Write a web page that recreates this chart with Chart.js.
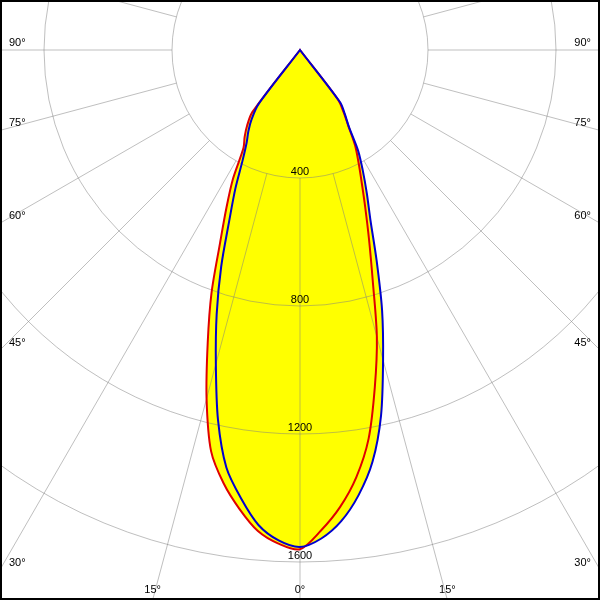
<!DOCTYPE html>
<html>
<head>
<meta charset="utf-8">
<title>Luminous intensity distribution</title>
<script src="https://cdn.jsdelivr.net/npm/chart.js@4/dist/chart.umd.min.js"></script>
<style>
  html, body { margin: 0; padding: 0; background: #fff; overflow: hidden; }
  #wrap { position: relative; width: 600px; height: 600px; }
  #frame { position: absolute; inset: 0; border: 2px solid #000; box-sizing: border-box; pointer-events: none; }
</style>
</head>
<body>
<div id="wrap">
  <canvas id="polar" width="600" height="600"></canvas>
  <div id="frame"></div>
</div>
<script>
// ── Data (cd per 1000 lm), gamma measured from nadir ────────────
const STEP = 2.5;
const gamma = [0, 2.5, 5, 7.5, 10, 12.5, 15, 17.5, 20, 22.5, 25, 27.5, 30, 32.5, 35, 37.5, 40];

// C0 / C180 plane (red)
const redRight = [1560, 1503, 1434, 1347, 1234, 1080, 928, 756, 631, 533, 456, 396, 344, 281, 238, 194, 0];
const redLeft  = [1560, 1544, 1509, 1447, 1375, 1284, 1128, 959, 809, 653, 544, 453, 353, 322, 288, 244, 0];

// C90 / C270 plane (blue)
const blueRight = [1553, 1528, 1478, 1403, 1306, 1170, 1003, 853, 700, 575, 494, 425, 363, 284, 244, 206, 0];
const blueLeft  = [1553, 1534, 1490, 1413, 1325, 1184, 1016, 866, 720, 578, 478, 388, 333, 300, 263, 213, 0];

const intensityTicks = [400, 800, 1200, 1600];
const angleTicks = [0, 15, 30, 45, 60, 75, 90];

// ── Look ────────────────────────────────────────────────────────
const GRID = 'rgba(128,128,128,0.5)';
const FONT = '11px "Liberation Sans", Arial, sans-serif';
const N = 360 / STEP;

// radar index 0 is nadir, indices run clockwise on screen (to the left first)
function planeSeries(right, left) {
  const out = [];
  for (let i = 0; i < N; i++) {
    if (i <= N / 2) out.push(i < left.length ? left[i] : 0);
    else out.push(N - i < right.length ? right[N - i] : 0);   // no light beyond the listed angles
  }
  return out;
}

const directions = [];
for (let i = 0; i < N; i++) directions.push(i * STEP);

// spokes from the first ring outward, ring values, angle labels at the frame
const polarDecor = {
  id: 'polarDecor',
  beforeDatasetsDraw(chart) {
    const s = chart.scales.r;
    const ctx = chart.ctx;
    const W = chart.width, H = chart.height;
    ctx.save();

    const inner = s.getDistanceFromCenterForValue(intensityTicks[0]);
    ctx.strokeStyle = GRID;
    ctx.lineWidth = 1;
    for (let deg = 0; deg < 360; deg += 15) {
      const a = s.getPointPosition(deg / STEP, inner);
      const b = s.getPointPosition(deg / STEP, 2000);
      ctx.beginPath();
      ctx.moveTo(a.x, a.y);
      ctx.lineTo(b.x, b.y);
      ctx.stroke();
    }

    ctx.fillStyle = '#000';
    ctx.font = FONT;
    ctx.textBaseline = 'alphabetic';
    ctx.textAlign = 'center';
    intensityTicks.forEach(v => {
      ctx.fillText(String(v), s.xCenter, s.yCenter + s.getDistanceFromCenterForValue(v) - 3);
    });

    angleTicks.forEach(deg => {
      const sides = deg === 0 ? [1] : [-1, 1];
      sides.forEach(side => {
        const dx = side * Math.sin(deg * Math.PI / 180);
        const dy = Math.cos(deg * Math.PI / 180);
        const tx = dx === 0 ? Infinity : (dx < 0 ? -s.xCenter / dx : (W - s.xCenter) / dx);
        const ty = dy <= 1e-9 ? Infinity : (H - s.yCenter) / dy;
        const label = deg + '°';
        if (tx < ty) {
          const y = s.yCenter + tx * dy;
          ctx.textAlign = side < 0 ? 'left' : 'right';
          ctx.fillText(label, side < 0 ? 9 : W - 9, y - 4);
        } else {
          ctx.textAlign = 'center';
          ctx.fillText(label, s.xCenter + ty * dx, H - 7);
        }
      });
    });
    ctx.restore();
  }
};

new Chart(document.getElementById('polar'), {
  type: 'radar',
  data: {
    labels: directions,
    datasets: [
      {
        label: 'C90 - C270',
        data: planeSeries(blueRight, blueLeft),
        borderColor: '#0000d0',
        backgroundColor: '#ffff00',
        fill: 'origin',
      },
      {
        label: 'C0 - C180',
        data: planeSeries(redRight, redLeft),
        borderColor: '#e00000',
        backgroundColor: '#ffff00',
        fill: 'origin',
      },
    ],
  },
  options: {
    responsive: false,
    animation: false,
    layout: { padding: 0 },
    elements: {
      line: { borderWidth: 2, tension: 0.3 },
      point: { radius: 0, hitRadius: 0 },
    },
    plugins: {
      legend: { display: false },
      tooltip: { enabled: false },
      filler: { drawTime: 'beforeDraw' },
    },
    scales: {
      r: {
        min: 0,
        max: 1600,
        startAngle: 180,
        ticks: { display: false, stepSize: 400 },
        pointLabels: { display: false },
        angleLines: { display: false },
        grid: { circular: true, color: GRID, lineWidth: 1 },
        // pole sits near the top edge, 1600 cd ring at 512 px
        afterFit(scale) {
          scale.xCenter = 300;
          scale.yCenter = 50;
          scale.drawingArea = 512;
        },
      },
    },
  },
  plugins: [polarDecor],
});
</script>
</body>
</html>
